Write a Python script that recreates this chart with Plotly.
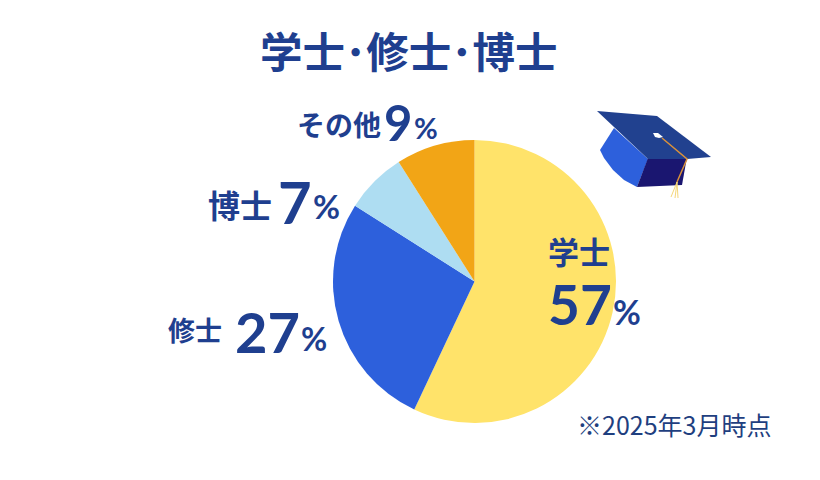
import plotly.graph_objects as go

categories = ["学士", "修士", "博士", "その他"]
values = [57, 27, 7, 9]
colors = ["#FFE36A", "#2D60DC", "#AEDDF2", "#F2A516"]
NAVY = "#1F3F8F"
FONT = "Noto Sans CJK JP"
NUM = "Lato"
W, H, OFF = 812, 472, 8  # the page body adds an 8 px margin

fx = lambda x: (x - OFF) / W
fy = lambda y: 1 - (y - OFF) / H

fig = go.Figure(go.Pie(
    labels=categories, values=values, sort=False, direction="clockwise", rotation=0,
    marker=dict(colors=colors, line=dict(width=0)), textinfo="none", hoverinfo="label+percent",
    domain=dict(x=[fx(333), fx(616)], y=[fy(423), fy(140)]),
))

def txt(x, y, s, size, anchor="left", color=NAVY, family=FONT):
    fig.add_annotation(x=fx(x), y=fy(y), xref="paper", yref="paper", text=s, showarrow=False,
                       xanchor=anchor, yanchor="middle", borderpad=0, borderwidth=0,
                       font=dict(size=size, color=color, family=family))

B = lambda s: f"<b>{s}</b>"
txt(409, 50, B("学士･修士･博士"), 42.5, "center")
txt(339, 124, B("その他"), 28, "center")
txt(398, 122, B("9"), 49, "center", family=NUM)
txt(426, 127, B("%"), 29, "center", family=NUM)
txt(240, 204, B("博士"), 32, "center")
txt(295, 201, B("7"), 58, "center", family=NUM)
txt(326, 206, B("%"), 33, "center", family=NUM)
txt(195, 329, B("修士"), 27, "center")
txt(267, 331, B("27"), 56, "center", family=NUM)
txt(314, 338, B("%"), 32, "center", family=NUM)
txt(579, 251, B("学士"), 31, "center")
txt(580, 304, B("57"), 55, "center", family=NUM)
txt(627, 311, B("%"), 34, "center", family=NUM)
txt(674, 424, "※2025年3月時点", 25, "center", color="#1F3F7F")

# Mortarboard icon drawn in pixel coordinates of the page
def poly(pts, fill):
    path = "M " + " L ".join(f"{fx(x)} {fy(y)}" for x, y in pts) + " Z"
    fig.add_shape(type="path", path=path, xref="paper", yref="paper", fillcolor=fill, line=dict(width=0))

def line(pts, color, width):
    path = "M " + " L ".join(f"{fx(x)} {fy(y)}" for x, y in pts)
    fig.add_shape(type="path", path=path, xref="paper", yref="paper", line=dict(color=color, width=width))

poly([(614,128),(600,150),(604,158),(613,170),(624,180),(637,187),(648,159)], "#2D60DC")
poly([(648,158),(687,157),(682,185),(637,187)], "#1A1670")
poly([(597,111),(657,116),(711,157),(687,159),(648,159)], "#21418F")
poly([(653,133),(658,133),(663,137),(659,138),(655,137)], "#FFFFFF")
line([(662,138),(687,159),(677,182)], "#D9913B", 1.5)
line([(677,182),(671,197)], "#F5D77A", 1)
line([(677,182),(675,198)], "#F5D77A", 1)
line([(677,182),(678,198)], "#F5D77A", 1)

fig.update_layout(width=W, height=H, margin=dict(l=0, r=0, t=0, b=0), showlegend=False,
                  paper_bgcolor="white", plot_bgcolor="white", font=dict(family=FONT))
fig.write_html("out.html")
